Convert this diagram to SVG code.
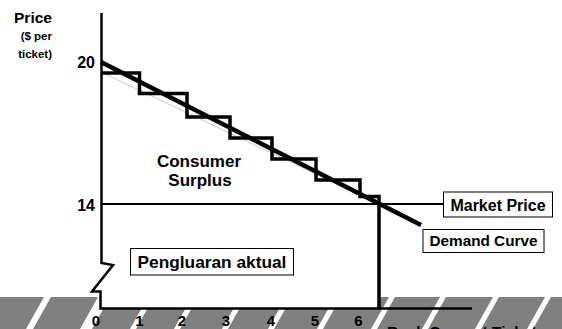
<svg xmlns="http://www.w3.org/2000/svg" width="562" height="329" viewBox="0 0 562 329">
<style>
text{font-family:"Liberation Sans",Arial,sans-serif;font-weight:bold;fill:#000}
.box{fill:#fff;stroke:#000;stroke-width:1}
.gap{fill:#fff}
.tick{font-size:15px;text-anchor:middle}
</style>
<rect width="562" height="329" fill="#fff"/>
<g id="band">
<rect x="0" y="297" width="562" height="32" fill="#808080"/>
<g class="gap">
<polygon points="26,329 33,329 51,297 44,297"/>
<polygon points="80,329 92,329 110,297 98,297"/>
<polygon points="130,329 136,329 154,297 148,297"/>
<polygon points="174,329 180,329 198,297 192,297"/>
<polygon points="222,329 228,329 246,297 240,297"/>
<polygon points="268,329 274,329 292,297 286,297"/>
<polygon points="317,329 323,329 341,297 335,297"/>
<polygon points="371,329 377,329 395,297 389,297"/>
<polygon points="422,329 428,329 446,297 440,297"/>
<polygon points="475,329 481,329 499,297 493,297"/>
<polygon points="527,329 533,329 551,297 545,297"/>
</g>
<rect x="101" y="285" width="278" height="23" fill="#fff"/>
</g>
<g id="axes" fill="none" stroke="#000" stroke-width="2.5">
<polyline points="101.5,13 101.5,263 113,265 92,291.5 100.5,291.5 100.5,308.5 472,308.5"/>
</g>
<g id="connectors" fill="none" stroke="#000">
<line x1="101" y1="72" x2="379" y2="204" stroke="#c8c8c8" stroke-width="1"/>
<line id="market-price-line" x1="101" y1="204" x2="443" y2="204" stroke-width="2"/>
<polyline id="steps" stroke-width="3.5" points="101,73 139.5,73 139.5,93.5 187,93.5 187,117 230,117 230,138 272,138 272,159 316,159 316,180 360,180 360,196.5 379,196.5 379,308"/>
<line id="demand-line" x1="101" y1="62" x2="421" y2="225" stroke-width="4.5"/>
</g>
<g id="y-axis-labels">
<text x="33" y="23" font-size="15.5" text-anchor="middle">Price</text>
<text x="52" y="40" font-size="11.5" text-anchor="end">($ per</text>
<text x="52" y="57.5" font-size="11.5" text-anchor="end">ticket)</text>
<text x="95" y="68" font-size="16" text-anchor="end">20</text>
<text x="95" y="211" font-size="16" text-anchor="end">14</text>
</g>
<g id="x-axis-labels">
<text class="tick" x="96" y="326">0</text>
<text class="tick" x="139.5" y="326">1</text>
<text class="tick" x="182" y="326">2</text>
<text class="tick" x="226" y="326">3</text>
<text class="tick" x="271" y="326">4</text>
<text class="tick" x="315" y="326">5</text>
<text class="tick" x="358.5" y="326">6</text>
<text x="387" y="337" font-size="15.5">Rock Concert Tickets</text>
</g>
<g id="consumer-surplus">
<text x="199" y="166.5" font-size="17" text-anchor="middle">Consumer</text>
<text x="200" y="185.5" font-size="17" text-anchor="middle">Surplus</text>
</g>
<g id="market-price">
<rect class="box" x="443.5" y="192" width="109" height="25"/>
<text x="498" y="210.5" font-size="16" text-anchor="middle">Market Price</text>
</g>
<g id="demand-curve">
<rect class="box" x="423" y="229.5" width="121" height="23"/>
<text x="483.5" y="245.5" font-size="15.3" text-anchor="middle">Demand Curve</text>
</g>
<g id="pengluaran-aktual">
<rect class="box" x="130.5" y="248.5" width="163" height="26.5"/>
<text x="212" y="268" font-size="17.3" text-anchor="middle">Pengluaran aktual</text>
</g>
</svg>
